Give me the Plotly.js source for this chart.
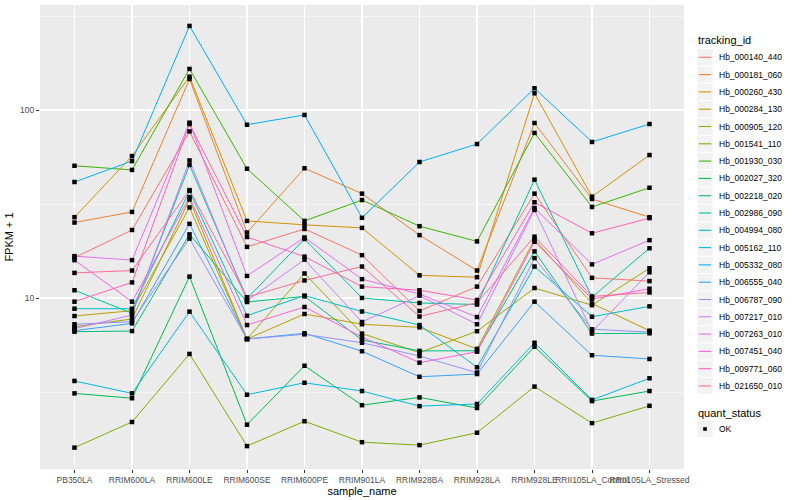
<!DOCTYPE html>
<html>
<head>
<meta charset="utf-8">
<script src="https://cdn.plot.ly/plotly-3.0.1.min.js"></script>
<style>html,body{margin:0;padding:0;background:#fff}#chart{width:800px;height:500px}</style>
</head>
<body>
<div id="chart"></div>
<script>
// categories (sample_name)
const samples = ["PB350LA","RRIM600LA","RRIM600LE","RRIM600SE","RRIM600PE","RRIM901LA","RRIM928BA","RRIM928LA","RRIM928LE","RRII105LA_Control","RRII105LA_Stressed"];

// tracking ids
const trackingIds = ["Hb_000140_440","Hb_000181_060","Hb_000260_430","Hb_000284_130","Hb_000905_120","Hb_001541_110","Hb_001930_030","Hb_002027_320","Hb_002218_020","Hb_002986_090","Hb_004994_080","Hb_005162_110","Hb_005332_080","Hb_006555_040","Hb_006787_090","Hb_007217_010","Hb_007263_010","Hb_007451_040","Hb_009771_060","Hb_021650_010"];

// FPKM + 1 values, one array per tracking id (order of samples)
const hb_000140_440 = [16.4, 23.0, 76.9, 18.7, 23.3, 16.9, 8.53, 11.5, 35.9, 12.8, 12.3];
const hb_000181_060 = [25.2, 28.7, 146.2, 22.3, 49.0, 35.9, 21.6, 14.0, 85.3, 33.6, 26.9];
const hb_000260_430 = [26.9, 56.9, 150.4, 25.7, 24.5, 23.6, 13.2, 12.9, 122.7, 34.6, 57.6];
const hb_000284_130 = [8.02, 8.56, 30.3, 6.05, 8.22, 7.25, 6.98, 5.36, 20.5, 9.35, 6.70];
const hb_000905_120 = [7.04, 7.73, 33.4, 6.05, 13.5, 6.47, 5.12, 6.66, 11.3, 9.16, 14.4];
const hb_001541_110 = [1.60, 2.19, 5.04, 1.63, 2.21, 1.71, 1.65, 1.92, 3.38, 2.16, 2.67];
const hb_001930_030 = [50.5, 48.0, 165.3, 48.7, 25.7, 33.2, 24.1, 20.0, 75.5, 30.5, 38.6];
const hb_002027_320 = [3.11, 2.93, 13.0, 2.12, 4.36, 2.69, 2.96, 2.60, 5.51, 2.83, 3.20];
const hb_002218_020 = [6.62, 6.67, 21.8, 9.52, 10.2, 5.98, 5.23, 5.24, 17.7, 6.47, 6.49];
const hb_002986_090 = [11.0, 8.29, 51.0, 9.94, 20.6, 10.0, 9.41, 9.23, 42.6, 10.1, 18.4];
const hb_004994_080 = [8.77, 8.77, 37.1, 8.05, 10.3, 8.48, 7.18, 4.28, 14.7, 7.95, 9.03];
const hb_005162_110 = [3.62, 3.11, 8.46, 3.06, 3.54, 3.20, 2.66, 2.73, 5.78, 2.87, 3.74];
const hb_005332_080 = [41.4, 53.5, 280.0, 83.5, 94.1, 26.7, 52.9, 65.9, 130.5, 67.6, 84.2];
const hb_006555_040 = [6.70, 7.33, 24.8, 6.05, 6.49, 5.21, 3.81, 3.94, 9.56, 4.96, 4.74];
const hb_006787_090 = [7.25, 7.48, 20.7, 6.05, 6.41, 5.78, 4.91, 4.01, 16.3, 6.82, 6.59];
const hb_007217_010 = [6.87, 8.12, 53.9, 9.67, 16.0, 7.45, 10.3, 7.25, 29.4, 6.62, 13.7];
const hb_007263_010 = [16.7, 15.9, 85.6, 13.1, 21.0, 12.6, 10.5, 7.92, 30.1, 15.1, 20.3];
const hb_007451_040 = [15.9, 9.56, 34.4, 7.18, 8.96, 6.20, 4.53, 5.18, 19.9, 9.88, 11.2];
const hb_009771_060 = [9.56, 12.1, 84.2, 21.1, 16.6, 11.5, 11.0, 9.76, 32.3, 22.1, 26.6];
const hb_021650_010 = [13.6, 14.0, 37.5, 10.1, 12.4, 14.7, 7.97, 9.44, 21.2, 10.2, 10.7];

const seriesValues = [hb_000140_440, hb_000181_060, hb_000260_430, hb_000284_130, hb_000905_120, hb_001541_110, hb_001930_030, hb_002027_320, hb_002218_020, hb_002986_090, hb_004994_080, hb_005162_110, hb_005332_080, hb_006555_040, hb_006787_090, hb_007217_010, hb_007263_010, hb_007451_040, hb_009771_060, hb_021650_010];

// quant_status
const quantStatus = ["OK"];

// axis ticks
const yTickVals = [10, 100];
const yTickText = ["10", "100"];
const yMinorVals = [3.1623, 31.623, 316.23];

const colors = ["#F8766D","#EA8331","#D89000","#C09B00","#A3A500","#7CAE00","#39B600","#00BB4E","#00BF7D","#00C1A3","#00BFC4","#00BAE0","#00B0F6","#35A2FF","#9590FF","#C77CFF","#E76BF3","#FA62DB","#FF62BC","#FF6C91"];

const font = "Liberation Sans, Arial, sans-serif";
const W = 800, H = 500, ML = 40, MR = 116, MT = 5, MB = 31;
const PW = W - ML - MR, PH = H - MT - MB;
const px2paper = p => (p - ML) / PW;
const py2paper = p => (H - MB - p) / PH;

const traces = [];
trackingIds.forEach((id, i) => {
  traces.push({
    type: "scatter", mode: "lines", name: id,
    x: samples, y: seriesValues[i],
    line: {color: colors[i], width: 1},
    showlegend: false, hoverinfo: "x+y+name"
  });
});
// points (all series), black squares
const ptx = [], pty = [];
seriesValues.forEach(v => { v.forEach((val, j) => { ptx.push(samples[j]); pty.push(val); }); });
traces.push({
  type: "scatter", mode: "markers", name: quantStatus[0],
  x: ptx, y: pty,
  marker: {symbol: "square", size: 4.5, color: "#000000"},
  showlegend: false
});

// hand-built ggplot-style legends (text stays real text)
const shapes = [], annotations = [];
const keyX0 = 697.3, keyX1 = 712.7, textX = 716.5, step = 17.3;
const firstY = 57.3;
annotations.push({xref: "paper", yref: "paper", x: px2paper(695.5), y: py2paper(40.5), xanchor: "left", yanchor: "middle",
  text: "tracking_id", showarrow: false, font: {family: font, size: 11, color: "#000"}});
trackingIds.forEach((id, i) => {
  const cy = firstY + step * i;
  shapes.push({type: "rect", xref: "paper", yref: "paper", x0: px2paper(keyX0), x1: px2paper(keyX1),
    y0: py2paper(cy - 8.1), y1: py2paper(cy + 8.1), fillcolor: "#F2F2F2", line: {width: 0}, layer: "above"});
  shapes.push({type: "line", xref: "paper", yref: "paper", x0: px2paper(keyX0 + 1.5), x1: px2paper(keyX1 - 1.5),
    y0: py2paper(cy), y1: py2paper(cy), line: {color: colors[i], width: 1.1}, layer: "above"});
  annotations.push({xref: "paper", yref: "paper", x: px2paper(textX), y: py2paper(cy), xanchor: "left", yanchor: "middle",
    text: id, showarrow: false, font: {family: font, size: 8.5, color: "#000"}});
});
annotations.push({xref: "paper", yref: "paper", x: px2paper(695.5), y: py2paper(412.5), xanchor: "left", yanchor: "middle",
  text: "quant_status", showarrow: false, font: {family: font, size: 11, color: "#000"}});
const okY = 429;
shapes.push({type: "rect", xref: "paper", yref: "paper", x0: px2paper(keyX0), x1: px2paper(keyX1),
  y0: py2paper(okY - 8.1), y1: py2paper(okY + 8.1), fillcolor: "#F2F2F2", line: {width: 0}, layer: "above"});
shapes.push({type: "rect", xref: "paper", yref: "paper", x0: px2paper(703.2), x1: px2paper(706.8),
  y0: py2paper(okY - 1.8), y1: py2paper(okY + 1.8), fillcolor: "#000", line: {width: 0}, layer: "above"});
annotations.push({xref: "paper", yref: "paper", x: px2paper(textX), y: py2paper(okY), xanchor: "left", yanchor: "middle",
  text: quantStatus[0], showarrow: false, font: {family: font, size: 8.5, color: "#000"}});

const layout = {
  width: W, height: H,
  margin: {l: ML, r: MR, t: MT, b: MB},
  paper_bgcolor: "#FFFFFF", plot_bgcolor: "#EBEBEB",
  font: {family: font, color: "#000000"},
  showlegend: false,
  shapes: shapes, annotations: annotations,
  xaxis: {
    type: "category", categoryarray: samples, categoryorder: "array",
    range: [-0.6, samples.length - 0.4],
    showgrid: true, gridcolor: "#FFFFFF", gridwidth: 1.1,
    zeroline: false, showline: false,
    ticks: "outside", ticklen: 3, tickcolor: "#333333", tickwidth: 1,
    tickangle: 0, automargin: false,
    tickfont: {family: font, size: 8.5, color: "#4D4D4D"},
    title: {text: "sample_name", font: {family: font, size: 11, color: "#000"}, standoff: 1}
  },
  yaxis: {
    type: "log", range: [0.0904, 2.5585],
    tickmode: "array", tickvals: yTickVals, ticktext: yTickText,
    showgrid: true, gridcolor: "#FFFFFF", gridwidth: 1.1,
    minor: {tickmode: "array", tickvals: yMinorVals, showgrid: true, gridcolor: "#FFFFFF", gridwidth: 0.5, ticks: ""},
    zeroline: false, showline: false,
    ticks: "outside", ticklen: 3, tickcolor: "#333333", tickwidth: 1,
    automargin: false,
    tickfont: {family: font, size: 8.5, color: "#4D4D4D"},
    title: {text: "FPKM + 1", font: {family: font, size: 11, color: "#000"}, standoff: 4}
  }
};

Plotly.newPlot("chart", traces, layout, {displayModeBar: false, staticPlot: true});
</script>
</body>
</html>
